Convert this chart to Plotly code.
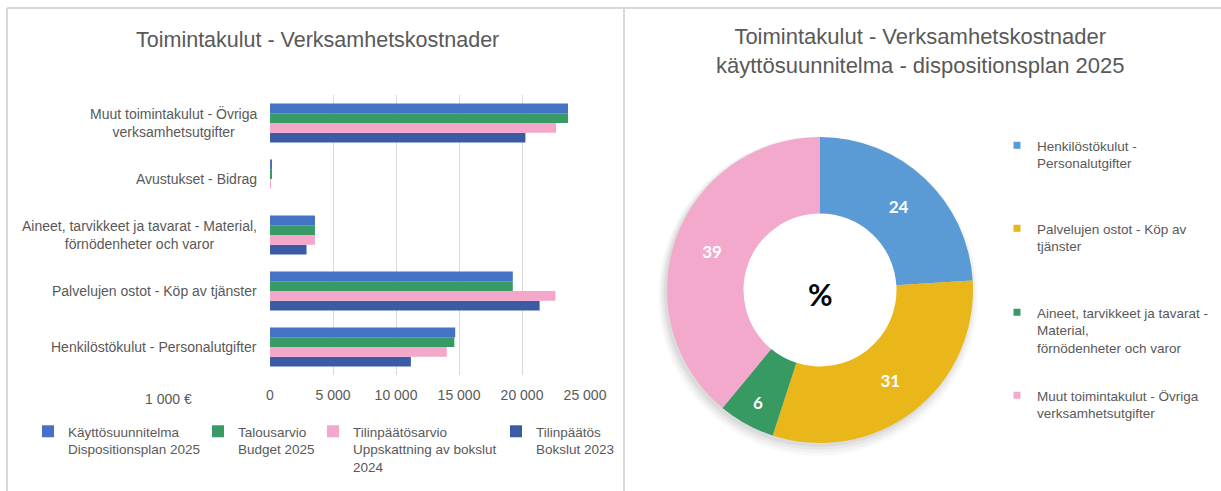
import plotly.graph_objects as go

W, H = 1221, 491


def fx(p):
    return p / W


def fy(p):
    return 1 - p / H


FONT = "Liberation Sans, Arial, sans-serif"
GREY = "#595959"

# ---------------- data ----------------
categories = [
    "Henkilöstökulut - Personalutgifter",
    "Palvelujen ostot - Köp av tjänster",
    "Aineet, tarvikkeet ja tavarat - Material, förnödenheter och varor",
    "Avustukset - Bidrag",
    "Muut toimintakulut - Övriga verksamhetsutgifter",
]
category_labels = [
    "Henkilöstökulut - Personalutgifter",
    "Palvelujen ostot - Köp av tjänster",
    "Aineet, tarvikkeet ja tavarat - Material,<br>förnödenheter och varor",
    "Avustukset - Bidrag",
    "Muut toimintakulut - Övriga<br>verksamhetsutgifter",
]

kayttosuunnitelma_2025 = [14700, 19270, 3570, 120, 23650]
talousarvio_2025 = [14630, 19270, 3570, 120, 23650]
tilinpaatosarvio_2024 = [14030, 22650, 3570, 60, 22700]
tilinpaatos_2023 = [11180, 21400, 2900, 0, 20270]

series_names = [
    "Käyttösuunnitelma<br>Dispositionsplan 2025",
    "Talousarvio<br>Budget 2025",
    "Tilinpäätösarvio<br>Uppskattning av bokslut<br>2024",
    "Tilinpäätös<br>Bokslut 2023",
]
series_values = [kayttosuunnitelma_2025, talousarvio_2025, tilinpaatosarvio_2024, tilinpaatos_2023]
series_colors = ["#4472C4", "#389A65", "#F4A7CA", "#3B5BA5"]

x_ticks = [0, 5000, 10000, 15000, 20000, 25000]

pie_labels = [
    "Henkilöstökulut - Personalutgifter",
    "Palvelujen ostot - Köp av tjänster",
    "Aineet, tarvikkeet ja tavarat - Material, förnödenheter och varor",
    "Muut toimintakulut - Övriga verksamhetsutgifter",
]
pie_legend_labels = [
    "Henkilöstökulut -<br>Personalutgifter",
    "Palvelujen ostot - Köp av<br>tjänster",
    "Aineet, tarvikkeet ja tavarat -<br>Material,<br>förnödenheter och varor",
    "Muut toimintakulut - Övriga<br>verksamhetsutgifter",
]
pie_values = [24, 31, 6, 39]
pie_colors = ["#5B9BD5", "#E9B719", "#379A63", "#F3A9CB"]

# ---------------- figure ----------------
fig = go.Figure()

# bars: added bottom-to-top within each group
bar_legends = ["legend", "legend2", "legend3", "legend4"]
for i in reversed(range(4)):
    fig.add_trace(go.Bar(
        y=categories, x=series_values[i], orientation="h",
        name=series_names[i], marker=dict(color=series_colors[i], line=dict(width=0)),
        legend=bar_legends[i], xaxis="x", yaxis="y",
    ))

fig.add_trace(go.Pie(
    labels=pie_labels, values=pie_values, hole=0.5, sort=False,
    direction="clockwise", rotation=0,
    marker=dict(colors=pie_colors, line=dict(width=0)),
    texttemplate="<b>%{value}</b>", textposition="inside",
    insidetextorientation="horizontal",
    textfont=dict(color="white", size=17, family="Lato, sans-serif"),
    domain=dict(x=[fx(667), fx(973)], y=[fy(443), fy(137)]),
    showlegend=False, hoverinfo="label+value",
))

pie_legends = ["legend5", "legend6", "legend7", "legend8"]
for i in range(4):
    fig.add_trace(go.Scatter(
        x=[None], y=[None], mode="markers", name=pie_legend_labels[i],
        marker=dict(symbol="square", size=7, color=pie_colors[i]),
        legend=pie_legends[i], xaxis="x2", yaxis="y2", hoverinfo="skip",
    ))

legend_common = dict(
    orientation="v", xanchor="left", yanchor="top", valign="top",
    bgcolor="rgba(0,0,0,0)", borderwidth=0,
    font=dict(family=FONT, size=13.5, color=GREY),
    itemclick=False, itemdoubleclick=False,
)

bar_legend_x = [28, 198, 313, 496]
pie_legend_y = [130, 213, 297, 380]
layout_legends = {}
for i, key in enumerate(bar_legends):
    layout_legends[key] = dict(legend_common, x=fx(bar_legend_x[i]), y=fy(416))
for i, key in enumerate(pie_legends):
    layout_legends[key] = dict(legend_common, x=fx(997), y=fy(pie_legend_y[i]))

annotations = [
    dict(text="Toimintakulut - Verksamhetskostnader", x=fx(317), y=fy(40),
         xref="paper", yref="paper", showarrow=False, xanchor="center", yanchor="middle",
         font=dict(family=FONT, size=21.5, color=GREY)),
    dict(text="Toimintakulut - Verksamhetskostnader<br>käyttösuunnitelma - dispositionsplan 2025",
         x=fx(920), y=fy(51), xref="paper", yref="paper", showarrow=False,
         xanchor="center", yanchor="middle", align="center",
         font=dict(family=FONT, size=22, color=GREY)),
    dict(text="1 000 €", x=fx(168), y=fy(399), xref="paper", yref="paper", showarrow=False,
         xanchor="center", yanchor="middle", font=dict(family=FONT, size=14, color=GREY)),
    dict(text="<b>%</b>", x=fx(820), y=fy(294), xref="paper", yref="paper", showarrow=False,
         xanchor="center", yanchor="middle", font=dict(family="Lato, sans-serif", size=30, color="black")),
]
for cat, lab in zip(categories, category_labels):
    annotations.append(dict(
        text=lab, x=fx(259), y=cat, xref="paper", yref="y", showarrow=False,
        xanchor="right", yanchor="middle", align="center",
        font=dict(family=FONT, size=14, color=GREY)))

border = dict(type="line", xref="paper", yref="paper", line=dict(color="#D9D9D9", width=2))
shapes = [
    dict(border, x0=fx(7), x1=1, y0=fy(8), y1=fy(8)),
    dict(border, x0=fx(7), x1=fx(7), y0=fy(8), y1=0),
    dict(border, x0=fx(624), x1=fx(624), y0=fy(8), y1=0),
]
# soft drop shadow under the doughnut, with the hole kept white
cx, cy, r = 820, 290, 153
for grow, dy, op in [(7, 6, 0.025), (5, 5, 0.03), (3, 4, 0.04), (1, 3, 0.05)]:
    shapes.append(dict(type="circle", xref="paper", yref="paper", layer="below",
                       x0=fx(cx - r - grow - 2), x1=fx(cx + r + grow - 2),
                       y0=fy(cy + r + grow + dy), y1=fy(cy - r - grow + dy),
                       fillcolor="black", opacity=op, line=dict(width=0)))
rh = r * 0.5 + 1
shapes.append(dict(type="circle", xref="paper", yref="paper", layer="below",
                   x0=fx(cx - rh), x1=fx(cx + rh), y0=fy(cy + rh), y1=fy(cy - rh),
                   fillcolor="white", line=dict(width=0)))

fig.update_layout(
    width=W, height=H, autosize=False,
    margin=dict(l=0, r=0, t=0, b=0, autoexpand=False),
    paper_bgcolor="white", plot_bgcolor="rgba(0,0,0,0)",
    separators=", ",
    barmode="group", bargap=0.3, bargroupgap=0,
    font=dict(family=FONT, size=14, color=GREY),
    xaxis=dict(domain=[fx(270), fx(585)], range=[0, 25000], tickvals=x_ticks,
               tickformat=",d", showgrid=True, gridcolor="#D9D9D9", gridwidth=1,
               zeroline=False, showline=False, ticks="", ticklabelstandoff=10,
               tickfont=dict(family=FONT, size=14, color=GREY), fixedrange=True),
    yaxis=dict(domain=[fy(375), fy(95)], type="category", categoryorder="array",
               categoryarray=categories, showticklabels=False, showgrid=False,
               zeroline=False, showline=False, fixedrange=True),
    xaxis2=dict(domain=[fx(1150), fx(1160)], visible=False, anchor="y2"),
    yaxis2=dict(domain=[fy(480), fy(470)], visible=False, anchor="x2"),
    annotations=annotations,
    shapes=shapes,
    showlegend=True,
    **layout_legends,
)

fig.write_html("out.html", config={"responsive": False, "displayModeBar": False})
